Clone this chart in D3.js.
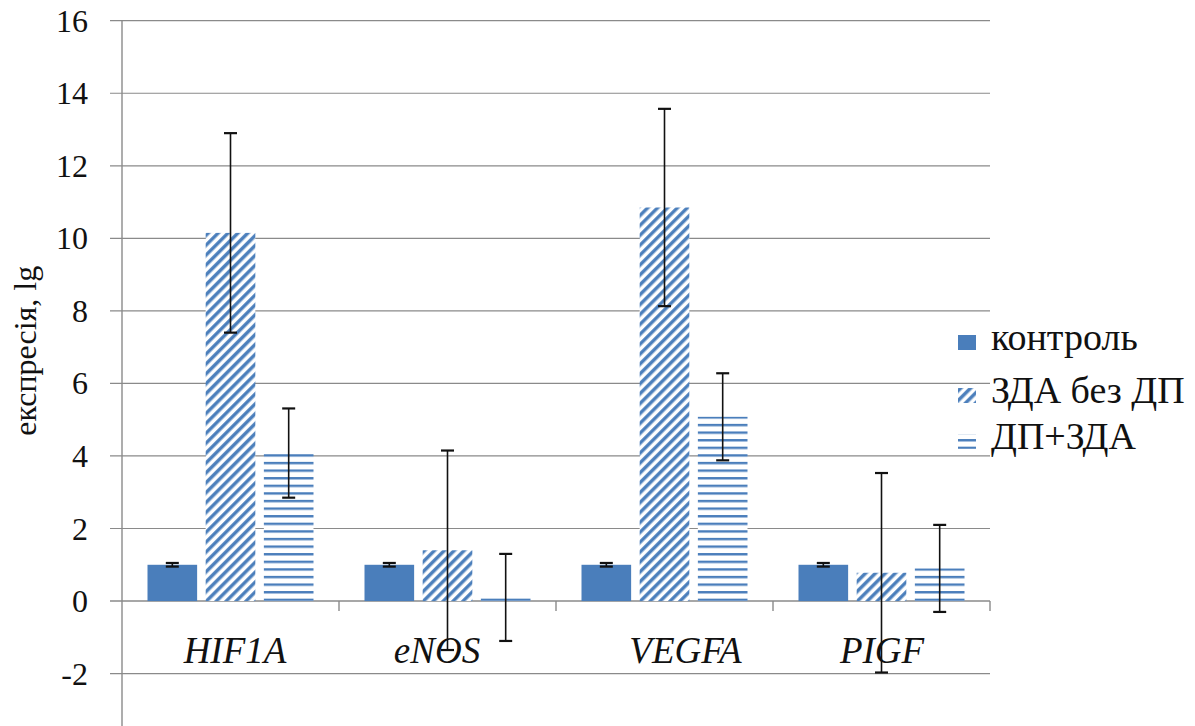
<!DOCTYPE html>
<html>
<head>
<meta charset="utf-8">
<script src="https://cdn.jsdelivr.net/npm/d3@7"></script>
<style>
  html, body { margin: 0; padding: 0; background: #fff; }
  svg { display: block; }
</style>
</head>
<body>
<svg id="chart" width="1195" height="726"></svg>
<script>
// Gene expression data (lg), three groups per gene
const categories = ["HIF1A", "eNOS", "VEGFA", "PIGF"];
const seriesNames = ["контроль", "ЗДА без ДП", "ДП+ЗДА"];
const controlValues = [1.0, 1.0, 1.0, 1.0];
const zdaValues = [10.15, 1.4, 10.85, 0.78];
const dpZdaValues = [4.08, 0.1, 5.08, 0.9];
const controlErrors = [0.05, 0.05, 0.05, 0.05];
const zdaErrors = [2.75, 2.75, 2.72, 2.75];
const dpZdaErrors = [1.23, 1.2, 1.2, 1.2];
const yTicks = [-2, 0, 2, 4, 6, 8, 10, 12, 14, 16];
const yTitle = "експресія, lg";

const valuesBySeries = [controlValues, zdaValues, dpZdaValues];
const errorsBySeries = [controlErrors, zdaErrors, dpZdaErrors];

// layout
const plotLeft = 122, plotRight = 990;
const blue = "#4a7ebb";
const gridColor = "#8a8a8a";
const textColor = "#111";
const serif = "Liberation Serif";
const labelShift = [4.5, -10.5, 21, 0.5];

const svg = d3.select("#chart");

const y = d3.scaleLinear().domain([-2, 16]).range([673.6, 20.7]);
const x0 = d3.scaleBand().domain(categories).range([plotLeft, plotRight]).padding(0);
const x1 = d3.scaleBand().domain(seriesNames).range([25.5, 191.5]).paddingInner(0.147).paddingOuter(0);

// fill patterns
const defs = svg.append("defs");
const diag = defs.append("pattern")
  .attr("id", "diag").attr("patternUnits", "userSpaceOnUse")
  .attr("width", 7).attr("height", 7)
  .attr("patternTransform", "rotate(45)");
diag.append("rect").attr("width", 7).attr("height", 7).attr("fill", "#fff");
diag.append("line").attr("x1", 1.8).attr("y1", 0).attr("x2", 1.8).attr("y2", 7)
  .attr("stroke", blue).attr("stroke-width", 3.4);

const horiz = defs.append("pattern")
  .attr("id", "horiz").attr("patternUnits", "userSpaceOnUse")
  .attr("width", 8).attr("height", 7.6).attr("y", y(0) - 2.4);
horiz.append("rect").attr("width", 8).attr("height", 7.6).attr("fill", "#fff");
horiz.append("rect").attr("x", 0).attr("y", 0).attr("width", 8).attr("height", 2.4).attr("fill", blue);

const fills = [blue, "url(#diag)", "url(#horiz)"];

// gridlines and y ticks
svg.append("g").selectAll("line").data(yTicks).join("line")
  .attr("x1", 110).attr("x2", plotRight)
  .attr("y1", d => y(d)).attr("y2", d => y(d))
  .attr("stroke", gridColor).attr("stroke-width", d => d === 0 ? 1.6 : 1.2);

// y tick labels
svg.append("g").selectAll("text").data(yTicks).join("text")
  .attr("x", 88).attr("y", d => y(d) + 11)
  .attr("text-anchor", "end")
  .attr("font-family", serif).attr("font-size", 32).attr("fill", textColor)
  .text(d => d);

// y axis line
svg.append("line")
  .attr("x1", plotLeft).attr("x2", plotLeft)
  .attr("y1", y(16)).attr("y2", y(-3.5))
  .attr("stroke", gridColor).attr("stroke-width", 1.4);

// category boundary ticks on the zero line
svg.append("g").selectAll("line").data(categories).join("line")
  .attr("x1", d => x0(d) + x0.bandwidth()).attr("x2", d => x0(d) + x0.bandwidth())
  .attr("y1", y(0)).attr("y2", y(0) + 10)
  .attr("stroke", gridColor).attr("stroke-width", 1.4);

// y title
svg.append("text")
  .attr("transform", `translate(36, ${y(6.9)}) rotate(-90)`)
  .attr("text-anchor", "middle")
  .attr("font-family", serif).attr("font-size", 32).attr("fill", textColor)
  .text(yTitle);

// bars
const groups = svg.append("g").selectAll("g").data(categories).join("g")
  .attr("transform", d => `translate(${x0(d)},0)`);

groups.each(function(cat, ci) {
  const g = d3.select(this);
  seriesNames.forEach((s, si) => {
    const v = valuesBySeries[si][ci];
    g.append("rect")
      .attr("x", x1(s)).attr("width", x1.bandwidth())
      .attr("y", Math.min(y(v), y(0)))
      .attr("height", Math.abs(y(0) - y(v)))
      .attr("fill", fills[si]);
  });
});

// category labels
svg.append("g").selectAll("text").data(categories).join("text")
  .attr("x", (d, i) => x0(d) + x0.bandwidth() / 2 + labelShift[i])
  .attr("y", 663)
  .attr("text-anchor", "middle")
  .attr("font-family", serif).attr("font-size", 37).attr("font-style", "italic").attr("fill", textColor)
  .text(d => d);

// error bars
groups.each(function(cat, ci) {
  const g = d3.select(this);
  seriesNames.forEach((s, si) => {
    const v = valuesBySeries[si][ci];
    const e = errorsBySeries[si][ci];
    const cx = x1(s) + x1.bandwidth() / 2;
    const eb = g.append("g").attr("stroke", "#111").attr("stroke-width", 1.6);
    eb.append("line").attr("x1", cx).attr("x2", cx).attr("y1", y(v + e)).attr("y2", y(v - e));
    [v + e, v - e].forEach(t => {
      eb.append("line").attr("x1", cx - 6.5).attr("x2", cx + 6.5).attr("y1", y(t)).attr("y2", y(t))
        .attr("stroke-width", 2.2);
    });
  });
});

// legend
const legendRows = [350, 403, 449];
const legend = svg.append("g");
seriesNames.forEach((s, i) => {
  legend.append("rect")
    .attr("x", 958).attr("y", legendRows[i] - 15)
    .attr("width", 18).attr("height", 15)
    .attr("fill", fills[i]);
  legend.append("text")
    .attr("x", 991).attr("y", legendRows[i])
    .attr("font-family", serif).attr("font-size", 38).attr("fill", textColor)
    .text(s);
});
</script>
</body>
</html>
